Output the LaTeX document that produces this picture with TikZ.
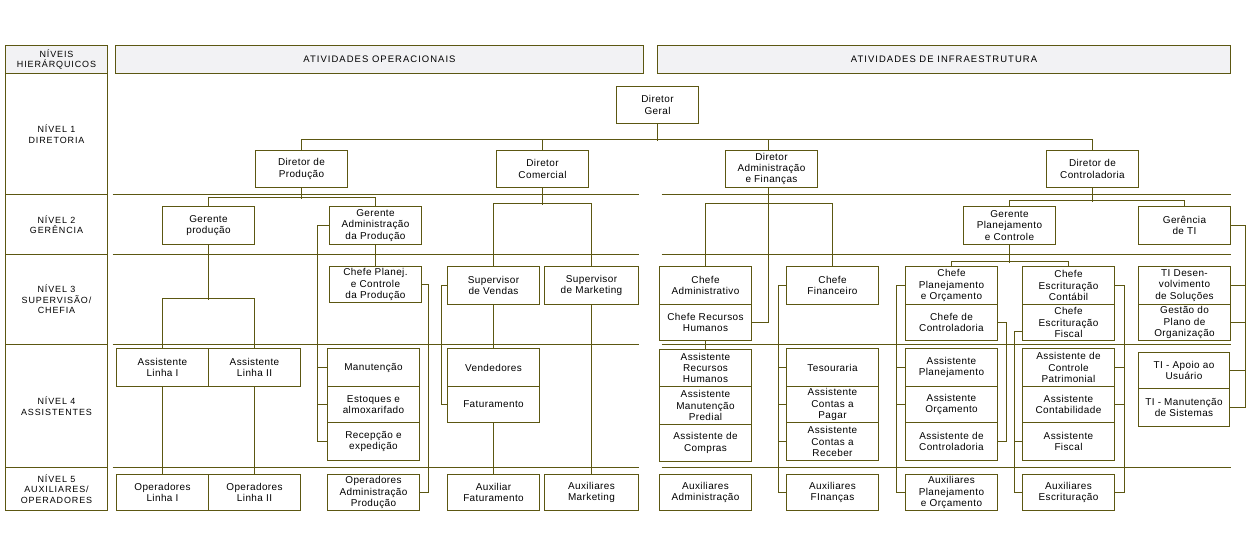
\documentclass[tikz,border=0pt]{standalone}
\usepackage{fontspec}
\setmainfont{Liberation Sans}
\newfontfamily\lblfont[LetterSpace=4]{Liberation Sans}
\newfontfamily\hdrfont[LetterSpace=11]{Liberation Sans}
\newfontfamily\lvlfont[LetterSpace=10]{Liberation Sans}
\definecolor{olv}{RGB}{92,87,18}
\definecolor{hdrgray}{RGB}{242,242,244}
\tikzset{
  box/.style={draw=olv, line width=1bp, fill=white, inner sep=0pt, align=center,
    font=\lblfont\fontsize{10}{11.3}\selectfont},
  hdrbox/.style={box, fill=hdrgray, font=\hdrfont\fontsize{9.5}{10}\selectfont},
  lvlbox/.style={box, font=\lvlfont\fontsize{9}{10.5}\selectfont},
  lvlhdr/.style={lvlbox, fill=hdrgray},
  conn/.style={draw=olv, line width=1bp},
  sepline/.style={draw=olv, line width=1bp}
}
\newcommand\Bx[7][box]{%
  \pgfmathsetmacro\bw{#5-#3}\pgfmathsetmacro\bh{#6-#4}%
  \pgfmathsetmacro\bcx{(#3+#5)/2}\pgfmathsetmacro\bcy{(#4+#6)/2}%
  \node[#1, minimum width=\bw bp, minimum height=\bh bp] (#2) at (\bcx,\bcy) {#7};}
\begin{document}
\begin{tikzpicture}[x=1bp,y=-1bp]
\useasboundingbox (0,0) rectangle (1256,550);
\begin{scope}[shift={(0.5,0.5)}]
% separator lines
\foreach \yy in {194,254,344,467}{
  \draw[sepline] (112,\yy) -- (638,\yy);
  \draw[sepline] (661,\yy) -- (1230,\yy);
}
% headers and level column
\Bx[lvlhdr]{hn}{5}{45}{107}{73}{NÍVEIS\\HIERÁRQUICOS}
\Bx[hdrbox]{hop}{115}{45}{643}{73}{ATIVIDADES OPERACIONAIS}
\Bx[hdrbox]{hinf}{657}{45}{1230}{73}{ATIVIDADES DE INFRAESTRUTURA}
\Bx[lvlbox]{n1}{5}{73}{107}{194}{NÍVEL 1\\DIRETORIA}
\Bx[lvlbox]{n2}{5}{194}{107}{254}{NÍVEL 2\\GERÊNCIA}
\Bx[lvlbox]{n3}{5}{254}{107}{344}{NÍVEL 3\\SUPERVISÃO/\\CHEFIA}
\Bx[lvlbox]{n4}{5}{344}{107}{467}{NÍVEL 4\\ASSISTENTES}
\Bx[lvlbox]{n5}{5}{467}{107}{510}{NÍVEL 5\\AUXILIARES/\\OPERADORES}
% level 1
\Bx{dg}{616}{86}{698}{123}{Diretor\\Geral}
\Bx{dprod}{255}{150}{347}{187}{Diretor de\\Produção}
\Bx{dcom}{496}{150}{588}{187}{Diretor\\Comercial}
\Bx{dadm}{725}{150}{817}{187}{Diretor\\Administração\\e Finanças}
\Bx{dctl}{1046}{150}{1138}{187}{Diretor de\\Controladoria}
% level 2
\Bx{gprod}{162}{206}{254}{244}{Gerente\\produção}
\Bx{gadm}{329}{206}{421}{244}{Gerente\\Administração\\da Produção}
\Bx{gplan}{963}{206}{1055}{244}{Gerente\\Planejamento\\e Controle}
\Bx{gti}{1138}{206}{1230}{244}{Gerência\\de TI}
% level 3
\Bx{cpc}{329}{266}{421}{302}{Chefe Planej.\\e Controle\\da Produção}
\Bx{svend}{447}{266}{539}{304}{Supervisor\\de Vendas}
\Bx{smkt}{544}{266}{638}{304}{Supervisor\\de Marketing}
\Bx{cadm}{659}{266}{751}{304}{Chefe\\Administrativo}
\Bx{crh}{659}{304}{751}{340}{Chefe Recursos\\Humanos}
\Bx{cfin}{786}{266}{878}{304}{Chefe\\Financeiro}
\Bx{cpo}{905}{266}{997}{304}{Chefe\\Planejamento\\e Orçamento}
\Bx{cctl}{905}{304}{997}{340}{Chefe de\\Controladoria}
\Bx{cec}{1022}{266}{1114}{304}{Chefe\\Escrituração\\Contábil}
\Bx{cef}{1022}{304}{1114}{340}{Chefe\\Escrituração\\Fiscal}
\Bx{tids}{1138}{266}{1230}{304}{TI Desen-\\volvimento\\de Soluções}
\Bx{tigp}{1138}{304}{1230}{340}{Gestão do\\Plano de\\Organização}
% level 4
\Bx{al1}{116}{348}{208}{386}{Assistente\\Linha I}
\Bx{al2}{208}{348}{300}{386}{Assistente\\Linha II}
\Bx{man}{327}{348}{419}{386}{Manutenção}
\Bx{est}{327}{386}{419}{422}{Estoques e\\almoxarifado}
\Bx{rec}{327}{422}{419}{460}{Recepção e\\expedição}
\Bx{vend}{447}{348}{539}{386}{Vendedores}
\Bx{fat}{447}{386}{539}{422}{Faturamento}
\Bx{arh}{659}{349}{751}{386}{Assistente\\Recursos\\Humanos}
\Bx{amp}{659}{386}{751}{424}{Assistente\\Manutenção\\Predial}
\Bx{acp}{659}{424}{751}{461}{Assistente de\\Compras}
\Bx{tes}{786}{348}{878}{386}{Tesouraria}
\Bx{acpag}{786}{386}{878}{422}{Assistente\\Contas a\\Pagar}
\Bx{acrec}{786}{422}{878}{460}{Assistente\\Contas a\\Receber}
\Bx{apl}{905}{348}{997}{386}{Assistente\\Planejamento}
\Bx{aorc}{905}{386}{997}{422}{Assistente\\Orçamento}
\Bx{actl}{905}{422}{997}{460}{Assistente de\\Controladoria}
\Bx{acpat}{1022}{348}{1114}{386}{Assistente de\\Controle\\Patrimonial}
\Bx{acont}{1022}{386}{1114}{422}{Assistente\\Contabilidade}
\Bx{afis}{1022}{422}{1114}{460}{Assistente\\Fiscal}
\Bx{tiap}{1138}{352}{1229}{388}{TI - Apoio ao\\Usuário}
\Bx{tim}{1138}{388}{1229}{426}{TI - Manutenção\\de Sistemas}
% level 5
\Bx{ol1}{116}{474}{208}{510}{Operadores\\Linha I}
\Bx{ol2}{208}{474}{300}{510}{Operadores\\Linha II}
\Bx{oadm}{327}{474}{419}{510}{Operadores\\Administração\\Produção}
\Bx{afat}{447}{474}{539}{510}{Auxiliar\\Faturamento}
\Bx{amkt}{544}{474}{638}{510}{Auxiliares\\Marketing}
\Bx{auxadm}{659}{474}{751}{510}{Auxiliares\\Administração}
\Bx{auxfin}{786}{474}{878}{510}{Auxiliares\\FInanças}
\Bx{auxpo}{905}{474}{997}{510}{Auxiliares\\Planejamento\\e Orçamento}
\Bx{auxesc}{1022}{474}{1114}{510}{Auxiliares\\Escrituração}
% connectors
\draw[conn] (dg.south) -- ++(0,17);
\draw[conn] (dprod.north) -- ++(0,-10) -| (dctl.north);
\draw[conn] (dcom.north) -- ++(0,-10);
\draw[conn] ([xshift=-3bp]dadm.north) -- ++(0,-10);
% producao
\draw[conn] (dprod.south) -- ++(0,11);
\draw[conn] (gprod.north) -- ++(0,-8) -| (gadm.north);
\draw[conn] (gprod.south) -- ++(0,55);
\draw[conn] (al1.north) -- ++(0,-49) -| (al2.north);
\draw[conn] (al1.south) -- (ol1.north);
\draw[conn] (al2.south) -- (ol2.north);
\draw[conn] (gadm.south) -- (cpc.north);
\draw[conn] (gadm.west) -| ([xshift=-10bp]rec.west) -- (rec.west);
\draw[conn] (man.west) -- ++(-10,0);
\draw[conn] (est.west) -- ++(-10,0);
\draw[conn] (cpc.east) -| ([xshift=8bp]oadm.east) -- (oadm.east);
% comercial
\draw[conn] (dcom.south) -- ++(0,17);
\draw[conn] (svend.north) -- ++(0,-62) -| (smkt.north);
\draw[conn] (svend.south) -- (vend.north);
\draw[conn] (fat.south) -- (afat.north);
\draw[conn] (smkt.south) -- (amkt.north);
\draw[conn] (svend.west) -| ([xshift=-6bp]fat.west) -- (fat.west);
% administracao e financas
\draw[conn] ([xshift=-3bp]dadm.south) |- (crh.east);
\draw[conn] (cadm.north) -- ++(0,-62) -| (cfin.north);
\draw[conn] (crh.south) -- (arh.north);
\draw[conn] (cfin.west) -| ([xshift=-8bp]auxfin.west) -- (auxfin.west);
\draw[conn] (tes.west) -- ++(-8,0);
\draw[conn] (acpag.west) -- ++(-8,0);
\draw[conn] (acrec.west) -- ++(-8,0);
% controladoria
\draw[conn] (dctl.south) -- ++(0,14);
\draw[conn] (gplan.north) -- ++(0,-5) -| (gti.north);
\draw[conn] (gplan.south) -- ++(0,18);
\draw[conn] (cpo.north) -- ++(0,-4) -| (cec.north);
\draw[conn] (cpo.west) -| ([xshift=-9bp]auxpo.west) -- (auxpo.west);
\draw[conn] (apl.west) -- ++(-9,0);
\draw[conn] (aorc.west) -- ++(-9,0);
\draw[conn] (cctl.east) -| ([xshift=8bp]actl.east) -- (actl.east);
\draw[conn] ([yshift=-9bp]cef.west) -| ([xshift=-8bp]auxesc.west) -- (auxesc.west);
\draw[conn] (afis.west) -- ++(-8,0);
\draw[conn] (cec.east) -| ([xshift=9bp]auxesc.east) -- (auxesc.east);
\draw[conn] (acpat.east) -- ++(9,0);
\draw[conn] (acont.east) -- ++(9,0);
\draw[conn] (gti.east) -| ([xshift=15bp]tim.east) -- (tim.east);
\draw[conn] (tids.east) -- ++(14,0);
\draw[conn] (tigp.east) -- ++(14,0);
\draw[conn] (tiap.east) -- ++(15,0);
\end{scope}
\end{tikzpicture}
\end{document}
